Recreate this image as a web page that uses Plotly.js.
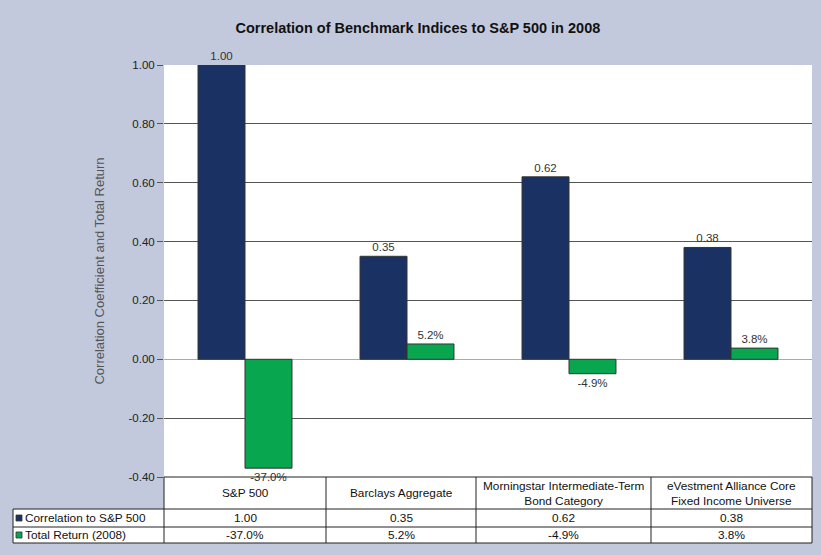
<!DOCTYPE html>
<html>
<head>
<meta charset="utf-8">
<script src="https://cdn.plot.ly/plotly-3.0.1.min.js"></script>
<style>body{margin:0;padding:0;background:#c3c9dd;} #chart{width:821px;height:555px;}</style>
</head>
<body>
<div id="chart"></div>
<script>
// ---- data ----
var categories = ['S&P 500', 'Barclays Aggregate', 'Morningstar Intermediate-Term Bond Category', 'eVestment Alliance Core Fixed Income Universe'];
var headerLabels = ['S&P 500', 'Barclays Aggregate', 'Morningstar Intermediate-Term<br>Bond Category', 'eVestment Alliance Core<br>Fixed Income Universe'];
var seriesNames = ['Correlation to S&P 500', 'Total Return (2008)'];
var correlation = [1.00, 0.35, 0.62, 0.38];
var totalReturn = [-0.370, 0.052, -0.049, 0.038];
var tickVals = [-0.4, -0.2, 0, 0.2, 0.4, 0.6, 0.8, 1.0];
var tickText = ['-0.40', '-0.20', '0.00', '0.20', '0.40', '0.60', '0.80', '1.00'];

var corrText = correlation.map(function (v) { return v.toFixed(2); });
var retText = totalReturn.map(function (v) { return (v * 100).toFixed(1) + '%'; });

var FONT = 'Liberation Sans, Arial, sans-serif';
var BLUE = '#1a3263';
var GREEN = '#08a64e';

var traces = [
  {
    type: 'bar', name: seriesNames[0], x: categories, y: correlation,
    text: corrText, textposition: 'outside', cliponaxis: false,
    textfont: {family: FONT, size: 11.5, color: '#333'},
    marker: {color: BLUE, line: {color: '#333', width: 1}},
    hoverinfo: 'none'
  },
  {
    type: 'bar', name: seriesNames[1], x: categories, y: totalReturn,
    text: retText, textposition: 'outside', cliponaxis: false,
    textfont: {family: FONT, size: 11.5, color: '#333'},
    marker: {color: GREEN, line: {color: '#333', width: 1}},
    hoverinfo: 'none'
  }
];

// ---- table geometry (pixel -> paper) ----
var L = 164, R = 812, T = 65, B = 477;
function px(x) { return (x - L) / (R - L); }
function py(y) { return (B - y) / (B - T); }

var lineStyle = {color: '#222', width: 1};
var shapes = [];
function rect(x0, x1, y0, y1, fill) { shapes.push({type: 'rect', xref: 'paper', yref: 'paper', layer: 'below', x0: px(x0), x1: px(x1), y0: py(y0), y1: py(y1), fillcolor: fill, line: {width: 0}}); }
function hline(y, x0, x1) { shapes.push({type: 'line', xref: 'paper', yref: 'paper', x0: px(x0), x1: px(x1), y0: py(y), y1: py(y), line: lineStyle}); }
function vline(x, y0, y1) { shapes.push({type: 'line', xref: 'paper', yref: 'paper', x0: px(x), x1: px(x), y0: py(y0), y1: py(y1), line: lineStyle}); }

var rowTop = 477, rowH1 = 509, rowH2 = 527, rowBot = 543, tableLeft = 13;
var colEdges = [164, 326, 476, 651, 812];
rect(L, R, rowTop, rowBot, '#ffffff');
rect(tableLeft, L, rowH1, rowBot, '#ffffff');
hline(rowTop, L, R);
hline(rowH1, tableLeft, R);
hline(rowH2, tableLeft, R);
hline(rowBot, tableLeft, R);
colEdges.forEach(function (x) { vline(x, rowTop, rowBot); });
vline(tableLeft, rowH1, rowBot);

// legend keys
var keyColors = [BLUE, GREEN];
var rowCenters = [(rowH1 + rowH2) / 2, (rowH2 + rowBot) / 2];
keyColors.forEach(function (c, k) {
  shapes.push({type: 'rect', xref: 'paper', yref: 'paper',
    x0: px(16), x1: px(22), y0: py(rowCenters[k] - 3), y1: py(rowCenters[k] + 3),
    fillcolor: c, line: {color: '#333', width: 0.8}});
});

var annotations = [];
var tf = {family: FONT, size: 11.8, color: '#111'};
categories.forEach(function (c, i) {
  var cx = px((colEdges[i] + colEdges[i + 1]) / 2);
  annotations.push({xref: 'paper', yref: 'paper', x: cx, y: py((rowTop + rowH1) / 2 + 0.5), text: headerLabels[i], showarrow: false, font: tf, xanchor: 'center', yanchor: 'middle'});
  annotations.push({xref: 'paper', yref: 'paper', x: cx, y: py(rowCenters[0]), text: corrText[i], showarrow: false, font: tf, xanchor: 'center', yanchor: 'middle'});
  annotations.push({xref: 'paper', yref: 'paper', x: cx, y: py(rowCenters[1]), text: retText[i], showarrow: false, font: tf, xanchor: 'center', yanchor: 'middle'});
});
seriesNames.forEach(function (n, k) {
  annotations.push({xref: 'paper', yref: 'paper', x: px(22.5), y: py(rowCenters[k]), text: n, showarrow: false, font: tf, xanchor: 'left', yanchor: 'middle'});
});

var layout = {
  width: 821, height: 555,
  paper_bgcolor: '#c3c9dd', plot_bgcolor: '#ffffff',
  margin: {l: L, r: 821 - R, t: T, b: 555 - B, pad: 0},
  title: {text: '<b>Correlation of Benchmark Indices to S&P 500 in 2008</b>', x: 0.509, xref: 'container', y: 1 - 28 / 555, yanchor: 'middle', yref: 'container', font: {family: FONT, size: 14.5, color: '#111'}},
  showlegend: false,
  barmode: 'group', bargap: 0.42, bargroupgap: 0,
  xaxis: {showticklabels: false, showgrid: false, zeroline: false, showline: false, ticks: '', fixedrange: true},
  yaxis: {
    range: [-0.4, 1.0], tickvals: tickVals, ticktext: tickText,
    ticks: 'outside', ticklen: 6, tickcolor: '#555', tickwidth: 1,
    tickfont: {family: FONT, size: 11.5, color: '#222'},
    showgrid: true, gridcolor: '#555', gridwidth: 1,
    zeroline: true, zerolinecolor: '#aaa', zerolinewidth: 1,
    showline: false, automargin: false,
    title: {text: 'Correlation Coefficient and Total Return', standoff: 20, font: {family: FONT, size: 13, color: '#555'}}
  },
  shapes: shapes,
  annotations: annotations
};

Plotly.newPlot('chart', traces, layout, {displayModeBar: false, staticPlot: true});
</script>
</body>
</html>
